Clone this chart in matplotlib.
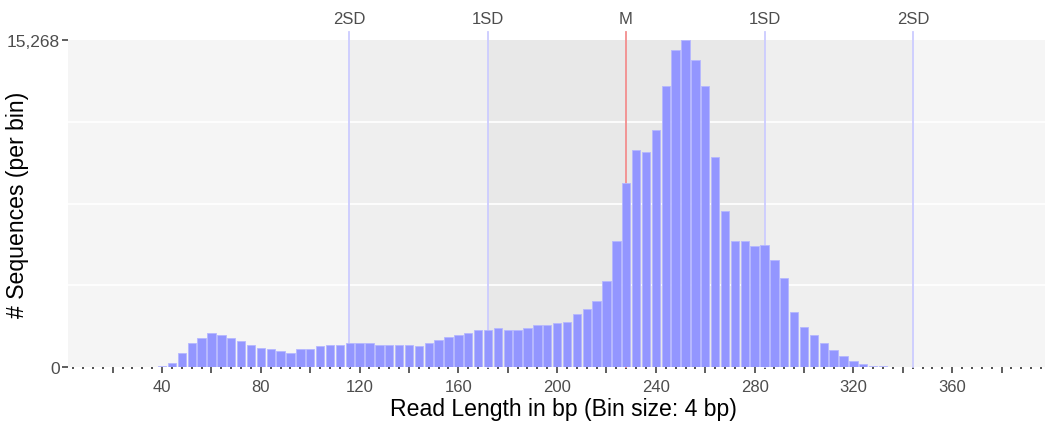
import matplotlib
matplotlib.use("Agg")
import matplotlib.pyplot as plt
from matplotlib.ticker import FixedLocator, FuncFormatter
import numpy as np

plt.rcParams['font.family'] = ['Liberation Sans', 'DejaVu Sans']

# ---- data ----
bin_size = 4
bin_centers = list(range(40, 333, 4))
counts = [70, 200, 650, 1100, 1340, 1570, 1490, 1340, 1200, 1040,
          890, 820, 730, 650, 820, 820, 960, 1040, 1040, 1120,
          1120, 1120, 1040, 1040, 1040, 1040, 960, 1120, 1270, 1420,
          1490, 1570, 1730, 1730, 1805, 1730, 1730, 1805, 1960, 1960,
          2040, 2120, 2490, 2720, 3100, 4015, 5860, 8610, 10130, 10060,
          11050, 13100, 14800, 15268, 14330, 13100, 9820, 7300, 5870, 5860,
          5630, 5700, 5010, 4170, 2550, 1880, 1490, 1100, 810, 500,
          265, 125, 50, 50]
y_max = 15268
stat_positions = [115.8, 172.0, 227.9, 284.1, 344.3]
stat_labels = ["2SD", "1SD", "M", "1SD", "2SD"]
x_tick_labels = [40, 80, 120, 160, 200, 240, 280, 320, 360]
x_major = list(range(20, 381, 20))
x_minor = [v for v in range(4, 397, 4) if v % 20 != 0]

W, H = 1047, 427
fig = plt.figure(figsize=(W / 100, H / 100), dpi=100)
ax_h = (368 - 41) / H
ax = fig.add_axes([68 / W, 1 - 368 / H, (1045 - 68) / W, ax_h])

ax.set_xlim(1.9, 397.6)
ax.set_ylim(0, y_max)
ax.set_facecolor('#f5f5f5')
for s in ax.spines.values():
    s.set_visible(False)

# background bands
ax.axvspan(stat_positions[0], stat_positions[4], color='#efefef', zorder=0.2, lw=0)
ax.axvspan(stat_positions[1], stat_positions[3], color='#e8e8e8', zorder=0.3, lw=0)

# grid
ax.set_axisbelow(True)
ax.yaxis.set_major_locator(FixedLocator([0, y_max]))
ax.yaxis.set_minor_locator(FixedLocator([y_max / 4, y_max / 2, 3 * y_max / 4]))
ax.grid(which='minor', axis='y', color='white', lw=1.2, zorder=0.5)
ax.yaxis.set_major_formatter(FuncFormatter(lambda v, p: f"{int(round(v)):,}"))

# stat lines (extend a little above the panel, like top ticks)
overhang = 1 + 8 / 327
for pos, lab in zip(stat_positions, stat_labels):
    ax.axvline(pos, ymin=0, ymax=overhang, clip_on=False,
               color='#f28e8e' if lab == 'M' else '#ccccff', lw=1.3, zorder=1.5)

# bars
ax.bar(bin_centers, counts, width=bin_size * 0.85, color='#9396ff',
       edgecolor='#b5b7ff', linewidth=0.6, zorder=2)

# x ticks
ax.xaxis.set_major_locator(FixedLocator(x_major))
ax.xaxis.set_minor_locator(FixedLocator(x_minor))
ax.xaxis.set_major_formatter(FuncFormatter(lambda v, p: str(int(v)) if int(v) in x_tick_labels else ""))
ax.tick_params(axis='x', which='major', length=4.5, width=1.1, color='#333333',
               labelsize=12, labelcolor='#4d4d4d', pad=4)
ax.tick_params(axis='x', which='minor', length=1.5, width=1.2, color='#333333')
ax.tick_params(axis='y', which='major', length=4, width=1.1, color='#333333',
               labelsize=12.5, labelcolor='#4d4d4d', pad=2)
ax.tick_params(axis='y', which='minor', length=0)

ax.set_xlabel("Read Length in bp (Bin size: 4 bp)", fontsize=16.6, color='black')
ax.xaxis.set_label_coords((563 - 68) / 977, -(410 - 368) / 327)
ax.xaxis.label.set_va('center')
ax.set_ylabel("# Sequences (per bin)", fontsize=16.6, color='black')
ax.yaxis.set_label_coords((18 - 68) / 977, 0.5)
ax.yaxis.label.set_va('center')

# top axis with stat labels
sec = ax.secondary_xaxis('top')
sec.set_xticks(stat_positions)
sec.set_xticklabels(stat_labels)
sec.tick_params(axis='x', length=0, labelsize=12, labelcolor='#4d4d4d', pad=10)
sec.xaxis.set_minor_locator(FixedLocator([]))
for s in sec.spines.values():
    s.set_visible(False)

fig.savefig("out.png", dpi=100)
